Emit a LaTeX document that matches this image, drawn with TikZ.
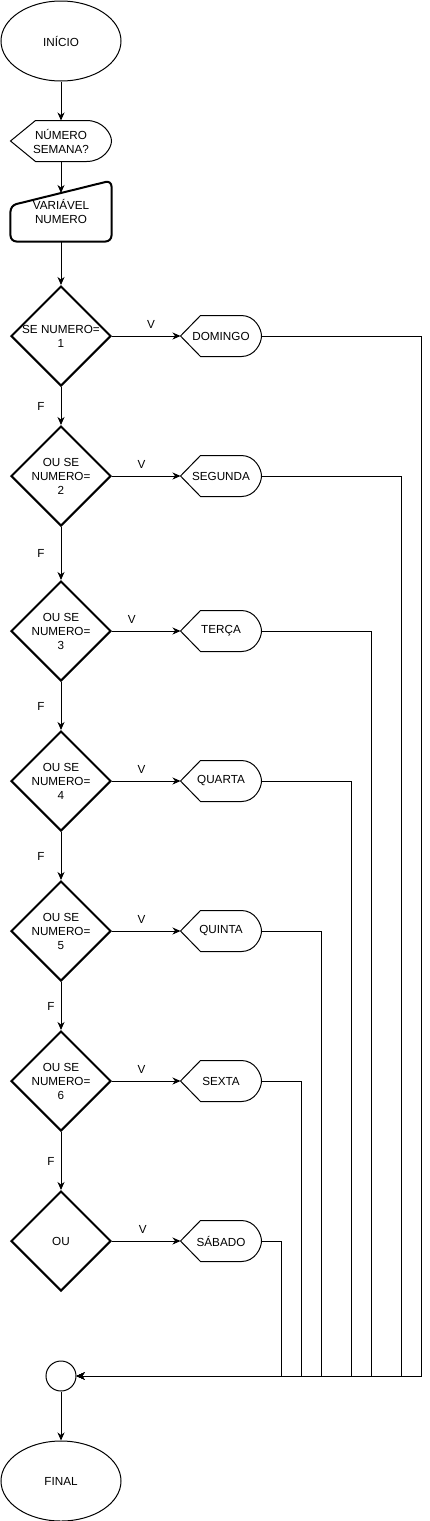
\documentclass[tikz,border=0pt]{standalone}
\usepackage{fontspec}
\setmainfont{Liberation Sans}
\usetikzlibrary{shapes.geometric, arrows.meta}

\tikzset{
  seta/.style={-{Stealth[length=8pt, width=7pt, inset=2.5pt]}},
  terminal/.style={draw, ellipse, minimum width=120pt, minimum height=80pt, inner sep=0pt},
  decisao/.style={draw, diamond, line width=2pt, minimum width=100pt, minimum height=100pt, inner sep=0pt},
  tela/.style={minimum width=80pt, minimum height=40pt, inner sep=0pt, align=center},
  texto/.style={align=center, inner sep=0pt},
  rotulo/.style={inner sep=0pt},
}

\begin{document}
\begin{tikzpicture}[x=1pt, y=-1pt, line width=1pt, font=\fontsize{11.7}{14}\selectfont]
	\useasboundingbox (-1,-1) rectangle (428,1520);

	\node[terminal] (inicio) at (60,40) {INÍCIO};
	\node[tela, minimum width=100pt] (pergunta) at (60,140) {NÚMERO\\SEMANA?};
	\node[minimum width=100pt, minimum height=60pt, inner sep=0pt, align=center] (var) at (60,210) {VARIÁVEL\\NUMERO};
	\coordinate (entrada) at ([yshift=-12.5pt]var.north);

	\node[decisao, label={[texto]center:SE NUMERO=\\1}] (se1) at (60,335) {};
	\node[decisao, label={[texto]center:OU SE\\NUMERO=\\2}] (se2) at (60,475) {};
	\node[decisao, label={[texto]center:OU SE\\NUMERO=\\3}] (se3) at (60,630) {};
	\node[decisao, label={[texto]center:OU SE\\NUMERO=\\4}] (se4) at (60,780) {};
	\node[decisao, label={[texto]center:OU SE\\NUMERO=\\5}] (se5) at (60,930) {};
	\node[decisao, label={[texto]center:OU SE\\NUMERO=\\6}] (se6) at (60,1080) {};
	\node[decisao, label={[texto]center:OU}] (ou) at (60,1240) {};

	\node[tela] (dom) at (220,335) {DOMINGO};
	\node[tela] (seg) at (220,475) {SEGUNDA};
	\node[tela] (ter) at (220,630) {TERÇA};
	\node[tela] (qua) at (220,780) {QUARTA};
	\node[tela] (qui) at (220,930) {QUINTA};
	\node[tela] (sex) at (220,1080) {SEXTA};
	\node[tela] (sab) at (220,1240) {SÁBADO};

	\node[draw, circle, minimum size=30pt, inner sep=0pt] (juncao) at (60,1375) {};
	\node[terminal] (final) at (60,1480) {FINAL};

	% contornos das telas e da entrada manual
	\foreach \n/\d in {pergunta/25, dom/20, seg/20, ter/20, qua/20, qui/20, sex/20, sab/20}
		\draw (\n.west) -- ([xshift=\d pt]\n.north west) -- ([xshift=-\d pt]\n.north east)
			.. controls ([xshift=-\d pt/3]\n.north east) and ([yshift=-40pt/3]\n.north east) .. (\n.east)
			.. controls ([yshift=40pt/3]\n.south east) and ([xshift=-\d pt/3]\n.south east) .. ([xshift=-\d pt]\n.south east)
			-- ([xshift=\d pt]\n.south west) -- cycle;
	\draw[line width=2pt, rounded corners=6pt] (var.south) -- (var.south west) -- ([yshift=-25pt]var.north west)
		-- (var.north east) -- (var.south east) -- cycle;

	\draw[seta] (inicio) -- (pergunta);
	\draw[seta] (pergunta.south) -- (entrada);
	\draw[seta] (var.south) -- (se1.north);

	\draw[seta] (se1) -- node[rotulo, pos=0.57, above=7.5pt] {V} (dom);
	\draw[seta] (se2) -- node[rotulo, pos=0.43, above=7.5pt] {V} (seg);
	\draw[seta] (se3) -- node[rotulo, pos=0.29, above=7.5pt] {V} (ter);
	\draw[seta] (se4) -- node[rotulo, pos=0.43, above=7.5pt] {V} (qua);
	\draw[seta] (se5) -- node[rotulo, pos=0.43, above=7.5pt] {V} (qui);
	\draw[seta] (se6) -- node[rotulo, pos=0.43, above=7.5pt] {V} (sex);
	\draw[seta] (ou) -- node[rotulo, pos=0.45, above=7.5pt] {V} (sab);

	\draw[seta] (se1) -- node[rotulo, left=16pt] {F} (se2);
	\draw[seta] (se2) -- node[rotulo, left=16pt] {F} (se3);
	\draw[seta] (se3) -- node[rotulo, left=16pt] {F} (se4);
	\draw[seta] (se4) -- node[rotulo, left=16pt] {F} (se5);
	\draw[seta] (se5) -- node[rotulo, left=6pt] {F} (se6);
	\draw[seta] (se6) -- node[rotulo, left=6pt] {F} (ou);

	\foreach \n/\x in {dom/420, seg/400, ter/370, qua/350, qui/320, sex/300, sab/280}
		\draw[seta] (\n.east) -| (juncao -| \x,0) -- (juncao);
	\draw[seta] (juncao) -- (final);
\end{tikzpicture}
\end{document}
